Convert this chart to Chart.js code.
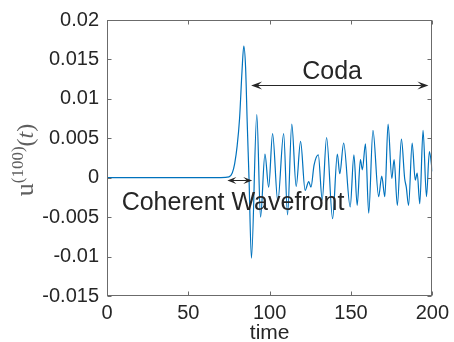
<!DOCTYPE html>
<html>
<head>
<meta charset="utf-8">
<script src="https://cdn.jsdelivr.net/npm/chart.js@4"></script>
<style>
  html, body { margin: 0; padding: 0; background: #fff; }
  canvas { display: block; }
</style>
</head>
<body>
<canvas id="myChart" width="454" height="342"></canvas>
<script>
// signal u^(100)(t) (extrema + a few shoulder points)
const timeVals = [
  0, 70, 75, 77, 78.5, 80, 81.5, 83, 84.1, 85.2, 86.2, 87.3, 88.8,
  92.1, 94.4, 97.1, 99.4, 101.8, 105.0, 108.6, 111.0, 113.6, 116.3,
  119.0, 121.8, 124.0, 125.4, 127.3, 129.9, 132.3, 135.0, 138.7,
  141.6, 143.1, 145.5, 149.5, 151.8, 153.8, 155.8, 157.0, 158.9,
  160.9, 163.5, 167.0, 168.9, 170.8, 172.8, 175.1, 176.5, 178.5,
  181.0, 183.0, 184.0, 185.4, 187.6, 189.5, 190.7, 192.3, 194.3,
  196.4, 198.2, 200
]
const uVals = [
  0, 0, 0.0001, 0.0006, 0.0018, 0.0040, 0.0075, 0.0135, 0.0167, 0.0140, 0.0070, 0.0, -0.0102,
  0.0080, -0.0050, 0.0030, -0.0012, 0.0056, -0.0030, 0.0056, -0.0047, 0.0068, -0.0011,
  0.0046, -0.0016, -0.0005, -0.0012, 0.0016, 0.0029, -0.0028, 0.0051, -0.0052,
  0.0030, 0.0005, 0.0044, -0.0037, 0.0029, -0.0035, 0.0023, 0.0010, 0.0043,
  -0.0045, 0.0060, -0.0024, 0.0002, -0.0024, 0.0068, -0.0001, 0.0023, -0.0035,
  0.0049, -0.0001, -0.0012, -0.0035, 0.0044, -0.0003, 0.0006, -0.0033, 0.0060,
  -0.0024, 0.0033, 0.0008
]
const xTicks = [0, 50, 100, 150, 200]
const yTicks = [-0.015, -0.01, -0.005, 0, 0.005, 0.01, 0.015, 0.02]

// annotations (data units)
const codaArrow = { x1: 88.6, x2: 197.6, y: 0.0117 }
const codaText = { x: 138.4, y: 0.0125, text: 'Coda' }
const waveArrow = { x1: 74.0, x2: 89.3, y: -0.0003 }
const waveText = { x: 9.0, y: -0.0041, text: 'Coherent Wavefront' }

const points = timeVals.map((t, i) => ({ x: t, y: uVals[i] }))

const axisColor = '#6b6b6b'
const textColor = '#262626'
const tickFont = { family: 'Liberation Sans, Arial, sans-serif', size: 20 }

function arrowHead(ctx, x, y, dir, len, wid) {
  ctx.beginPath()
  ctx.moveTo(x, y)
  ctx.lineTo(x - dir * len, y - wid / 2)
  ctx.lineTo(x - dir * len * 0.6, y)
  ctx.lineTo(x - dir * len, y + wid / 2)
  ctx.closePath()
  ctx.fill()
}

function drawArrow(ctx, xs, ys, a, len, wid) {
  const x1 = xs.getPixelForValue(a.x1)
  const x2 = xs.getPixelForValue(a.x2)
  const y = Math.round(ys.getPixelForValue(a.y)) + 0.5
  ctx.strokeStyle = textColor
  ctx.fillStyle = textColor
  ctx.lineWidth = 1
  ctx.beginPath()
  ctx.moveTo(x1 + len * 0.6, y)
  ctx.lineTo(x2 - len * 0.6, y)
  ctx.stroke()
  arrowHead(ctx, x1, y, -1, len, wid)
  arrowHead(ctx, x2, y, 1, len, wid)
}

const matlabAxes = {
  id: 'matlabAxes',
  afterDraw(chart) {
    const ctx = chart.ctx
    const { left, right, top, bottom } = chart.chartArea
    const xs = chart.scales.x
    const ys = chart.scales.y
    ctx.save()

    // box + inward ticks
    const L = Math.round(left) + 0.5, R = Math.round(right) - 0.5
    const T = Math.round(top) + 0.5, B = Math.round(bottom) - 0.5
    ctx.strokeStyle = axisColor
    ctx.lineWidth = 1
    ctx.strokeRect(L, T, R - L, B - T)
    ctx.beginPath()
    xTicks.forEach(v => {
      const px = Math.round(xs.getPixelForValue(v)) + 0.5
      ctx.moveTo(px, B); ctx.lineTo(px, B - 4)
      ctx.moveTo(px, T); ctx.lineTo(px, T + 4)
    })
    yTicks.forEach(v => {
      const py = Math.round(ys.getPixelForValue(v)) + 0.5
      ctx.moveTo(L, py); ctx.lineTo(L + 4, py)
      ctx.moveTo(R, py); ctx.lineTo(R - 4, py)
    })
    ctx.stroke()

    // arrows
    drawArrow(ctx, xs, ys, codaArrow, 11, 8)
    drawArrow(ctx, xs, ys, waveArrow, 9, 7)

    // annotation texts
    ctx.fillStyle = textColor
    ctx.font = '25px Liberation Sans, Arial, sans-serif'
    ctx.textBaseline = 'alphabetic'
    ctx.textAlign = 'center'
    ctx.fillText(codaText.text, xs.getPixelForValue(codaText.x), ys.getPixelForValue(codaText.y))
    ctx.textAlign = 'left'
    ctx.fillText(waveText.text, xs.getPixelForValue(waveText.x), ys.getPixelForValue(waveText.y))

    // y label  u^(100)(t)
    ctx.translate(33, 160)
    ctx.rotate(-Math.PI / 2)
    ctx.fillStyle = '#5f5f5f'
    ctx.textAlign = 'left'
    const parts = [
      { t: 'u', f: '26px Liberation Serif, serif', dy: 0 },
      { t: '(100)', f: '17px Liberation Serif, serif', dy: -10 },
      { t: '(', f: '24px Liberation Serif, serif', dy: 0 },
      { t: 't', f: 'italic 24px Liberation Serif, serif', dy: 0 },
      { t: ')', f: '24px Liberation Serif, serif', dy: 0 }
    ]
    let total = 0
    parts.forEach(p => { ctx.font = p.f; p.w = ctx.measureText(p.t).width; total += p.w })
    let cx = -total / 2
    parts.forEach(p => { ctx.font = p.f; ctx.fillText(p.t, cx, p.dy); cx += p.w })

    ctx.restore()
  }
}

const data = {
  datasets: [{
    data: points,
    borderColor: '#0072BD',
    borderWidth: 1.2,
    pointRadius: 0,
    fill: false,
    cubicInterpolationMode: 'monotone'
  }]
}

const config = {
  type: 'line',
  data: data,
  options: {
    responsive: false,
    animation: false,
    devicePixelRatio: 1,
    layout: { padding: { top: 20, right: 17, left: 0, bottom: 0 } },
    plugins: {
      legend: { display: false },
      tooltip: { enabled: false }
    },
    scales: {
      x: {
        type: 'linear',
        min: 0, max: 200,
        grid: { display: false, drawTicks: false },
        border: { display: false },
        ticks: { stepSize: 50, padding: 5, color: textColor, font: tickFont, maxRotation: 0 },
        title: {
          display: true, text: 'time', color: textColor,
          font: { family: tickFont.family, size: 21, lineHeight: 1 },
          padding: { top: 0, bottom: -2 }
        },
        afterFit(scale) { scale.height = 46 }
      },
      y: {
        min: -0.015, max: 0.02,
        grid: { display: false, drawTicks: false },
        border: { display: false },
        ticks: {
          stepSize: 0.005, padding: 8, color: textColor, font: tickFont,
          callback: v => String(Number(v.toFixed(4)))
        },
        afterFit(scale) { scale.width = 107 }
      }
    }
  },
  plugins: [matlabAxes]
}

const myChart = new Chart(document.getElementById('myChart'), config)
</script>
</body>
</html>
